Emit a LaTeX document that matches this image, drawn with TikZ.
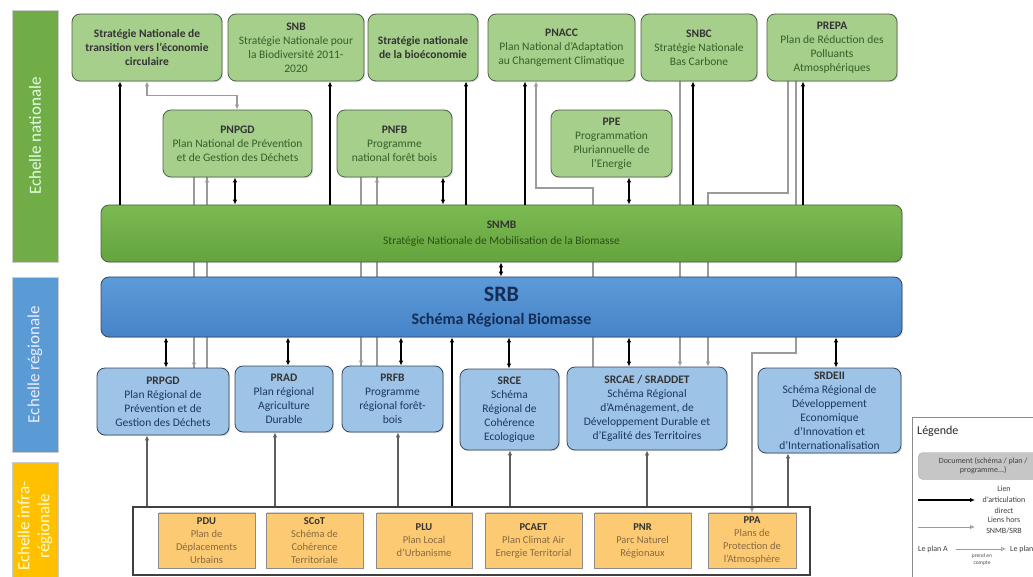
\documentclass[tikz,border=0pt]{standalone}
\usepackage{fontspec}
\setmainfont{Carlito}
\usetikzlibrary{arrows.meta,shadows,backgrounds}
\definecolor{natfill}{RGB}{166,207,140}
\definecolor{natdraw}{RGB}{80,95,70}
\definecolor{nattext}{RGB}{52,96,40}
\definecolor{snmbtop}{RGB}{124,186,82}
\definecolor{snmbbot}{RGB}{100,164,60}
\definecolor{snmbtext}{RGB}{40,80,25}
\definecolor{srbtop}{RGB}{92,154,216}
\definecolor{srbbot}{RGB}{70,132,200}
\definecolor{srbtext}{RGB}{20,45,85}
\definecolor{regfill}{RGB}{157,195,230}
\definecolor{regdraw}{RGB}{55,70,90}
\definecolor{regtext}{RGB}{28,55,100}
\definecolor{orfill}{RGB}{252,202,115}
\definecolor{ortext}{RGB}{135,105,65}
\definecolor{labgreen}{RGB}{112,173,71}
\definecolor{labblue}{RGB}{91,155,213}
\definecolor{laborange}{RGB}{255,192,0}
\definecolor{linkgrey}{RGB}{155,155,155}
\definecolor{infragrey}{RGB}{95,95,95}
\newcommand\bt[1]{\textbf{\color{black!80}#1}}
\begin{document}
\begin{tikzpicture}[x=1pt,y=-1pt,
  natbox/.style={draw=natdraw, line width=0.8pt, rounded corners=8pt, fill=natfill, align=center, inner sep=1pt, text=nattext, font=\fontsize{11.5}{14}\selectfont, drop shadow={shadow xshift=1.2pt, shadow yshift=-1.2pt, opacity=0.25}},
  regbox/.style={draw=regdraw, line width=0.8pt, rounded corners=8pt, fill=regfill, align=center, inner sep=1pt, text=regtext, font=\fontsize{11.5}{14}\selectfont, drop shadow={shadow xshift=1.2pt, shadow yshift=-1.2pt, opacity=0.25}},
  orbox/.style={draw=black!45, line width=0.6pt, fill=orfill, align=center, inner sep=1pt, text=ortext, font=\fontsize{10.5}{13}\selectfont, drop shadow={shadow xshift=1.2pt, shadow yshift=1.2pt, opacity=0.35}},
  scalelab/.style={rotate=90, draw=black!20, line width=0.6pt, align=center, inner sep=1pt, font=\fontsize{17}{20}\selectfont},
  blk/.style={draw=black, line width=1.1pt, -{Latex[length=5pt,width=4.5pt]}},
  dbl/.style={draw=black, line width=1.3pt, {Latex[length=5pt,width=4.5pt]}-{Latex[length=5pt,width=4.5pt]}},
  gry/.style={draw=linkgrey, line width=1.1pt, -{Latex[open,length=5pt,width=4.5pt]}},
  gryb/.style={draw=linkgrey, line width=1.1pt, {Latex[open,length=5pt,width=4.5pt]}-{Latex[open,length=5pt,width=4.5pt]}},
  gryplain/.style={draw=linkgrey, line width=1.1pt},
  inf/.style={draw=infragrey, line width=1.2pt, -{Latex[length=5pt,width=4.5pt,fill=gray!60]}}
]
\useasboundingbox (0,0) rectangle (1033,577);

% scale labels
\node[scalelab, fill=labgreen, text=green!10!white, minimum width=252pt, minimum height=46pt] (lnat) at (35,136) {Echelle nationale};
\node[scalelab, fill=labblue, text=blue!8!white, minimum width=175pt, minimum height=46pt] (lreg) at (35,364.5) {Echelle régionale};
\node[scalelab, fill=laborange, text=yellow!20!white, minimum width=128pt, minimum height=46pt] (linf) at (35,526) {Echelle infra-\\régionale};

% top row
\node[natbox, minimum width=150pt, minimum height=67pt] (eco) at (147,47.5) {\bt{Stratégie Nationale  de}\\\bt{transition vers l’économie}\\\bt{circulaire}};
\node[natbox, minimum width=136pt, minimum height=67pt] (snb) at (296,47.5) {\bt{SNB}\\Stratégie Nationale pour\\la Biodiversité 2011-\\2020};
\node[natbox, minimum width=110pt, minimum height=67pt] (bio) at (423,47.5) {\bt{Stratégie nationale}\\\bt{de la bioéconomie}};
\node[natbox, minimum width=147pt, minimum height=67pt] (pnacc) at (561.5,47.5) {\bt{PNACC}\\Plan National d’Adaptation\\au Changement Climatique};
\node[natbox, minimum width=116pt, minimum height=67pt] (snbc) at (699,47.5) {\bt{SNBC}\\Stratégie Nationale\\Bas Carbone};
\node[natbox, minimum width=130pt, minimum height=67pt] (prepa) at (832,47.5) {\bt{PREPA}\\Plan de Réduction des\\Polluants\\Atmosphériques};

% second row
\node[natbox, minimum width=149pt, minimum height=67pt] (pnpgd) at (237.5,143.5) {\bt{PNPGD}\\Plan National de Prévention\\et de Gestion des Déchets};
\node[natbox, minimum width=115pt, minimum height=67pt] (pnfb) at (394.5,143.5) {\bt{PNFB}\\Programme\\national forêt bois};
\node[natbox, minimum width=121pt, minimum height=67pt] (ppe) at (611.5,143.5) {\bt{PPE}\\Programmation\\Pluriannuelle de\\l’Energie};

% SNMB and SRB
\node[draw=natdraw, line width=0.8pt, rounded corners=8pt, top color=snmbtop, bottom color=snmbbot, minimum width=801pt, minimum height=57pt, align=center, text=snmbtext, font=\fontsize{11.5}{16}\selectfont, drop shadow={shadow xshift=1.2pt, shadow yshift=-1.2pt, opacity=0.25}] (snmb) at (501.5,233.5) {\bt{SNMB}\\Stratégie Nationale de Mobilisation de la Biomasse};
\node[draw=regdraw, line width=0.8pt, rounded corners=8pt, top color=srbtop, bottom color=srbbot, minimum width=801pt, minimum height=60pt, align=center, text=srbtext, font=\fontsize{16}{23}\selectfont, drop shadow={shadow xshift=1.2pt, shadow yshift=-1.2pt, opacity=0.25}] (srb) at (501.5,307) {{\fontsize{22}{23}\selectfont\textbf{SRB}}\\\textbf{Schéma Régional Biomasse}};

% regional row
\node[regbox, minimum width=132pt, minimum height=67pt] (prpgd) at (163,401.5) {\bt{PRPGD}\\Plan Régional de\\Prévention et de\\Gestion des Déchets};
\node[regbox, minimum width=98pt, minimum height=66pt] (prad) at (284,399) {\bt{PRAD}\\Plan régional\\Agriculture\\Durable};
\node[regbox, minimum width=101pt, minimum height=66pt] (prfb) at (392.5,399) {\bt{PRFB}\\Programme\\régional forêt-\\bois};
\node[regbox, minimum width=99pt, minimum height=81pt] (srce) at (509.5,409.5) {\bt{SRCE}\\Schéma\\Régional de\\Cohérence\\Ecologique};
\node[regbox, minimum width=160pt, minimum height=83pt] (srcae) at (647,408.5) {\bt{SRCAE / SRADDET}\\Schéma Régional\\d’Aménagement, de\\Développement  Durable et\\d’Egalité des  Territoires};
\node[regbox, minimum width=143pt, minimum height=85pt] (srdeii) at (829.5,410.5) {\bt{SRDEII}\\Schéma Régional de\\Développement\\Economique\\d’Innovation et\\d’Internationalisation};

% infra-regional frame and boxes
\node[draw=black!75, line width=1.3pt, minimum width=677pt, minimum height=68pt, inner sep=0pt] (infra) at (471.5,541) {};
\node[orbox, minimum width=97pt, minimum height=55pt] (pdu) at (206.5,540.5) {\bt{PDU}\\Plan de\\Déplacements\\Urbains};
\node[orbox, minimum width=97pt, minimum height=55pt] (scot) at (314.5,540.5) {\bt{SCoT}\\Schéma de\\Cohérence\\Territoriale};
\node[orbox, minimum width=96pt, minimum height=55pt] (plu) at (424,540.5) {\bt{PLU}\\Plan Local\\d’Urbanisme};
\node[orbox, minimum width=97pt, minimum height=55pt] (pcaet) at (533.5,540.5) {\bt{PCAET}\\Plan Climat Air\\Energie Territorial};
\node[orbox, minimum width=97pt, minimum height=55pt] (pnr) at (642.5,540.5) {\bt{PNR}\\Parc Naturel\\Régionaux};
\node[orbox, minimum width=88pt, minimum height=55pt] (ppa) at (752,540.5) {\bt{PPA}\\Plans de\\Protection de\\l’Atmosphère};

% legend
\draw[draw=black!45, line width=0.7pt, fill=white] (912,417) rectangle (1045,595);
\node[anchor=west, font=\fontsize{12}{14}\selectfont, text=black!85, inner sep=0pt] (legt) at (917,431) {Légende};
\node[rounded corners=5pt, fill=gray!45, draw=gray!70, minimum width=130pt, minimum height=27pt, anchor=west, align=center, font=\fontsize{8}{9.5}\selectfont, text=black!75, inner sep=1pt] (doc) at (918,466) {Document (schéma / plan /\\programme...)};
\coordinate (l1a) at (918,500); \coordinate (l1b) at (975,500);
\coordinate (l2a) at (918,527); \coordinate (l2b) at (975,527);
\node[align=center, font=\fontsize{8}{11}\selectfont, text=black!75, inner sep=0pt] (l1t) at (1004,500) {Lien\\d’articulation\\direct};
\node[align=center, font=\fontsize{8}{11}\selectfont, text=black!75, inner sep=0pt] (l2t) at (1004,525) {Liens hors\\SNMB/SRB};
\node[anchor=west, font=\fontsize{8}{10}\selectfont, text=black!75, inner sep=0pt] (pa) at (918,549) {Le plan A};
\node[anchor=west, font=\fontsize{8}{10}\selectfont, text=black!75, inner sep=0pt] (pb) at (1010,549) {Le plan B};
\node[align=center, font=\fontsize{5.5}{7}\selectfont, text=black!70, inner sep=0pt] (pc) at (982,560) {prend en\\compte};
\draw[blk] (l1a) -- (l1b);
\draw[gry, line width=0.9pt] (l2a) -- (l2b);
\draw[gry, line width=0.7pt] (pa.east) ++(8,0) -- ([xshift=-4pt]pb.west);

% connectors behind boxes
\begin{scope}[on background layer]
  \draw[gryplain] (194,0 |- pnpgd.south) -- (194,0 |- prpgd.north);
  \draw[gry] (194,0 |- srb.south) -- (194,0 |- prpgd.north);
  \draw[gry] (207,0 |- snmb.north) -- (207,0 |- pnpgd.south);
  \draw[gryplain] (207,0 |- prpgd.north) -- (207,0 |- pnpgd.south);
  \draw[gryplain] (361,0 |- pnfb.south) -- (361,0 |- prfb.north);
  \draw[gry] (361,0 |- srb.south) -- (361,0 |- prfb.north);
  \draw[gryplain] (377,0 |- prfb.north) -- (377,0 |- pnfb.south);
  \draw[gry] (377,0 |- snmb.north) -- (377,0 |- pnfb.south);
  \draw[gry] (593,0 |- srcae.north) -- (593,188) -| (536,0 |- pnacc.south);
  \draw[gry] (680,0 |- snbc.south) -- (680,0 |- srcae.north);
  \draw[gry] (788,0 |- prepa.south) -- (788,193) -| (708,0 |- srcae.north);
  \draw[gry] (796,0 |- prepa.south) -- (796,353) -| (752,0 |- ppa.north);
\end{scope}

% national links
\draw[blk] (120,0 |- snmb.north) -- (120,0 |- eco.south);
\draw[blk] (330,0 |- snmb.north) -- (330,0 |- snb.south);
\draw[blk] (466,0 |- snmb.north) -- (466,0 |- bio.south);
\draw[blk] (525,0 |- snmb.north) -- (525,0 |- pnacc.south);
\draw[blk] (693,0 |- snmb.north) -- (693,0 |- snbc.south);
\draw[blk] (803,0 |- snmb.north) -- (803,0 |- prepa.south);
\draw[gryb] (237,0 |- pnpgd.north) -- ++(0,-14) -| (147,0 |- eco.south);
\draw[dbl] (235,0 |- pnpgd.south) -- (235,0 |- snmb.north);
\draw[dbl] (443,0 |- pnfb.south) -- (443,0 |- snmb.north);
\draw[dbl] (629,0 |- ppe.south) -- (629,0 |- snmb.north);
\draw[dbl] (501,0 |- snmb.south) -- (501,0 |- srb.north);

% regional links
\draw[dbl] (166,0 |- srb.south) -- (166,0 |- prpgd.north);
\draw[dbl] (288,0 |- srb.south) -- (288,0 |- prad.north);
\draw[dbl] (401,0 |- srb.south) -- (401,0 |- prfb.north);
\draw[dbl] (509,0 |- srb.south) -- (509,0 |- srce.north);
\draw[dbl] (629,0 |- srb.south) -- (629,0 |- srcae.north);
\draw[dbl] (836,0 |- srb.south) -- (836,0 |- srdeii.north);

% infra links
\draw[inf] (147,0 |- infra.north) -- (147,0 |- prpgd.south);
\draw[inf] (275,0 |- infra.north) -- (275,0 |- prad.south);
\draw[inf] (398,0 |- infra.north) -- (398,0 |- prfb.south);
\draw[blk] (452,0 |- infra.north) -- (452,0 |- srb.south);
\draw[inf] (510,0 |- infra.north) -- (510,0 |- srce.south);
\draw[inf] (647,0 |- infra.north) -- (647,0 |- srcae.south);
\draw[inf] (788,0 |- infra.north) -- (788,0 |- srdeii.south);
\end{tikzpicture}
\end{document}
